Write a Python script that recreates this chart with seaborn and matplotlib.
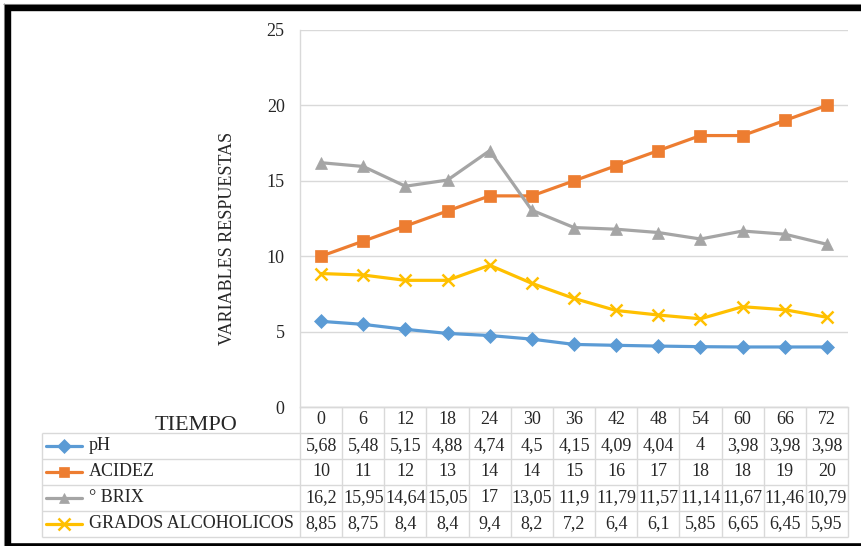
import numpy as np
import matplotlib
matplotlib.use("Agg")
import matplotlib.pyplot as plt
from matplotlib.lines import Line2D
import seaborn as sns

# Sampling times (hours) and measured response variables
tiempo = [0, 6, 12, 18, 24, 30, 36, 42, 48, 54, 60, 66, 72]
ph = [5.68, 5.48, 5.15, 4.88, 4.74, 4.5, 4.15, 4.09, 4.04, 4, 3.98, 3.98, 3.98]
acidez = [10, 11, 12, 13, 14, 14, 15, 16, 17, 18, 18, 19, 20]
brix = [16.2, 15.95, 14.64, 15.05, 17, 13.05, 11.9, 11.79, 11.57, 11.14, 11.67, 11.46, 10.79]
grados = [8.85, 8.75, 8.4, 8.4, 9.4, 8.2, 7.2, 6.4, 6.1, 5.85, 6.65, 6.45, 5.95]

series_names = ["pH", "ACIDEZ", "° BRIX", "GRADOS ALCOHOLICOS"]
series_values = [ph, acidez, brix, grados]
y_ticks = [0, 5, 10, 15, 20, 25]

sns.set_style("white")
plt.rcParams["font.family"] = ["Liberation Serif", "DejaVu Serif"]

colors = ["#5B9BD5", "#ED7D31", "#A5A5A5", "#FFC000"]
markers = ["D", "s", "^", "x"]
msizes = [7.5, 8.5, 8.5, 9]
grid_c = "#D9D9D9"

W, H = 861, 546
fig = plt.figure(figsize=(W / 100, H / 100), dpi=100)
fig.patch.set_facecolor("white")

# plot area and data-table area (pixel layout)
left_px, right_px, top_px, axis_px, table_bot_px = 300, 848, 30, 407, 537
ax = fig.add_axes([left_px / W, 1 - axis_px / H, (right_px - left_px) / W, (axis_px - top_px) / H])
tax = fig.add_axes([left_px / W, 1 - table_bot_px / H, (right_px - left_px) / W,
                    (table_bot_px - axis_px) / H], sharex=ax)

pos = np.arange(len(tiempo))
for name, vals, c, m, ms in zip(series_names, series_values, colors, markers, msizes):
    kw = dict(markeredgewidth=1.8) if m == "x" else dict(markeredgewidth=0.5)
    sns.lineplot(x=pos, y=vals, ax=ax, color=c, marker=m, markersize=ms,
                 markeredgecolor=c, linewidth=2.3, label=name, zorder=3, **kw)
ax.get_legend().remove()

ax.set_xlim(-0.5, len(tiempo) - 0.5)
ax.set_ylim(0, 25)
ax.set_yticks(y_ticks)
ax.set_yticklabels([str(t) for t in y_ticks], fontsize=13)
ax.tick_params(axis="y", length=0, pad=11)
ax.tick_params(axis="x", bottom=False, labelbottom=False)
ax.yaxis.grid(True, color=grid_c, linewidth=1.0)
ax.set_axisbelow(True)
for s in ["top", "right"]:
    ax.spines[s].set_visible(False)
for s in ["left", "bottom"]:
    ax.spines[s].set_color(grid_c)
    ax.spines[s].set_linewidth(1.0)

# data table below the plot
n = len(tiempo)
colw = (right_px - left_px) / n
x_left = -0.5 - (left_px - 42) / colw
nrows = len(series_names) + 1
tax.set_ylim(nrows, 0)
tax.axis("off")
lkw = dict(color=grid_c, linewidth=1.0, clip_on=False, solid_capstyle="butt")
tax.plot([-0.5, n - 0.5], [0, 0], **lkw)
for r in range(1, nrows + 1):
    tax.plot([x_left, n - 0.5], [r, r], **lkw)
for k in range(n + 1):
    tax.plot([-0.5 + k, -0.5 + k], [0, nrows], **lkw)
tax.plot([x_left, x_left], [1, nrows], **lkw)

def fmt(v):
    return f"{v:g}".replace(".", ",")

for i, t in enumerate(tiempo):
    tax.text(i, 0.5, str(t), ha="center", va="center", fontsize=13)
for r, (name, vals, c, m, ms) in enumerate(zip(series_names, series_values, colors, markers, msizes), start=1):
    yc = r + 0.5
    for i, v in enumerate(vals):
        tax.text(i, yc, fmt(v), ha="center", va="center", fontsize=13)
    k0 = x_left + 4 / colw
    k1 = x_left + 40 / colw
    tax.plot([k0, k1], [yc, yc], color=c, linewidth=2.3, clip_on=False)
    kw = dict(markeredgewidth=1.8) if m == "x" else dict(markeredgewidth=0.5)
    tax.plot([(k0 + k1) / 2], [yc], marker=m, markersize=ms * 0.9, color=c,
             markeredgecolor=c, clip_on=False, **kw)
    tax.text(x_left + 47 / colw, yc, name, ha="left", va="center", fontsize=13)

fig.text(196 / W, 1 - 425 / H, "TIEMPO", ha="center", va="center", fontsize=16)
fig.text(228 / W, 1 - 238 / H, "VARIABLES RESPUESTAS", ha="center", va="center",
         rotation=90, fontsize=13)

# outer frame
def fline(x0, y0, x1, y1, c, lw):
    fig.add_artist(Line2D([x0 / W, x1 / W], [1 - y0 / H, 1 - y1 / H], color=c,
                          linewidth=lw, solid_capstyle="butt"))

fline(3, 3.8, W, 3.8, "#9A9A9A", 0.8)
fline(3.8, 3, 3.8, H, "#9A9A9A", 0.8)
fline(4.5, 7.7, W, 7.7, "black", 4.6)
fline(7.7, 4.5, 7.7, H, "black", 4.6)
fline(4.5, 544.5, W, 544.5, "black", 2.6)

fig.savefig("out.png", dpi=100, facecolor="white")
